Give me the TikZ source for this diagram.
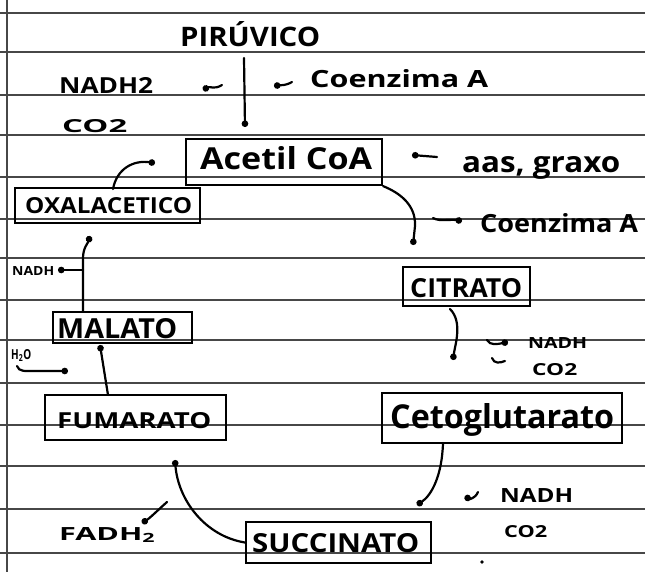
\documentclass[tikz,border=0pt]{standalone}
\usepackage{fontspec}
\setmainfont{Open Sans}
\usepackage{graphicx}
\usetikzlibrary{arrows.meta}
\newcommand{\fitt}[3]{\resizebox{#1pt}{#2pt}{#3}}
\begin{document}
\begin{tikzpicture}[x=1pt,y=-1pt,
  paper/.style={black!72, line width=1.1pt},
  hand/.style={line width=2.2pt, line cap=round, line join=round},
  dot/.style={-{Circle[length=6.5pt]}},
  box/.style={draw, line width=2.2pt, inner sep=0pt},
  lbl/.style={anchor=base west, inner sep=0pt, font=\bfseries}]
\useasboundingbox (0,0) rectangle (645,572);
\fill[white] (0,0) rectangle (645,572);
\foreach \yy in {13,52,95,135,177,219,258,300,340,383,425,466,509,553}
  \draw[paper] (0,\yy) -- (645,\yy);
\draw[paper] (7,0) -- (7,572);

% boxes
\node[box, minimum width=196pt, minimum height=46pt] (acetil) at (284,162) {};
\node[box, minimum width=185pt, minimum height=35pt] (oxal) at (107.5,205.5) {};
\node[box, minimum width=127pt, minimum height=39pt] (citrato) at (466.5,286.5) {};
\node[box, minimum width=139pt, minimum height=31pt] (malato) at (122.5,327.5) {};
\node[box, minimum width=181pt, minimum height=45pt] (fumarato) at (135.5,417.5) {};
\node[box, minimum width=240pt, minimum height=50pt] (ceto) at (502,418) {};
\node[box, minimum width=185pt, minimum height=41pt] (succ) at (338.5,542.5) {};

% texts
\node[lbl] (pirT) at (180,47) {\fitt{140}{25}{PIRÚVICO}};
\node[lbl] (nadh2) at (59,94) {\fitt{94}{16}{NADH2}};
\node[lbl] (co2a) at (62,133) {\fitt{65}{13}{CO2}};
\node[lbl] (coA1) at (310,88) {\fitt{178}{18}{Coenzima A}};
\node[lbl] (acetilT) at (200,170) {\fitt{172}{23}{Acetil CoA}};
\node[lbl] (aas) at (462,173) {\fitt{158}{16}{aas, graxo}};
\node[lbl] (oxalT) at (25,213) {\fitt{167}{16}{OXALACETICO}};
\node[lbl] (coA2) at (480,232) {\fitt{158}{19}{Coenzima A}};
\node[lbl] (nadhL) at (12,275) {\fitt{42}{9}{NADH}};
\node[lbl] (citT) at (410,297) {\fitt{112}{19}{CITRATO}};
\node[lbl] (malT) at (57,338) {\fitt{120}{20}{MALATO}};
\node[lbl] (nadhM) at (528,348) {\fitt{59}{11}{NADH}};
\node[lbl] (h2o) at (11,359) {\fitt{20}{10}{H\textsubscript{2}O}};
\node[lbl] (co2M) at (532,375) {\fitt{45}{12}{CO2}};
\node[lbl] (fumT) at (57,428) {\fitt{154}{16}{FUMARATO}};
\node[lbl] (cetoT) at (390,428) {\fitt{224}{25}{Cetoglutarato}};
\node[lbl] (nadhB) at (500,502) {\fitt{73}{14}{NADH}};
\node[lbl] (co2B) at (504,537) {\fitt{43}{12}{CO2}};
\node[lbl] (fadh) at (59,540) {\fitt{97}{13}{FADH\textsubscript{2}}};
\node[lbl] (succT) at (252,552) {\fitt{167}{19}{SUCCINATO}};

% free ends
\coordinate (e1) at (245,127);
\coordinate (e2) at (155,163);
\coordinate (e3) at (413,245);
\coordinate (e4) at (453,360);
\coordinate (e5) at (90,236);
\coordinate (e6) at (100,345);
\coordinate (e7) at (175,460);
\coordinate (e8) at (417,505);

% connectors
\draw[hand,dot] (244,58) -- (e1);
\draw[hand,dot] (222,85) .. controls (214,90) and (210,86) .. (203,90);
\draw[hand,dot] (292,82) .. controls (285,86) and (281,85) .. (274,86);
\draw[hand,dot] (113,189) .. controls (117,168) and (134,160) .. (e2);
\draw[hand,dot] (437,157) -- (412,155);
\draw[hand,dot] (acetil.south east) .. controls (400,193) and (416,205) .. (415,226) -- (e3);
\draw[hand,dot] (433,218) .. controls (440,222) and (450,219) .. (462,221);
\draw[hand,dot] (450,309) .. controls (463,322) and (455,345) .. (e4);
\draw[hand,dot] (487,340) .. controls (490,346) and (498,344) .. (508,342);
\draw[hand] (492,358) .. controls (494,364) and (500,363) .. (505,361);
\draw[hand,dot] (83,311) -- (83,258) .. controls (83,248) and (88,243) .. (e5);
\draw[hand,dot] (83,270) -- (58,270);
\draw[hand,dot] (17,366) .. controls (19,372) and (25,371) .. (35,371) -- (68,371);
\draw[hand,dot] (108,395) -- (e6);
\draw[hand,dot] (succ.west) .. controls (205,536) and (178,500) .. (e7);
\draw[hand,dot] (167,502) .. controls (158,510) and (150,518) .. (142,523);
\draw[hand,dot] (443,443) .. controls (442,475) and (432,495) .. (e8);
\draw[hand,dot] (478,492) .. controls (475,499) and (469,499) .. (465,496);
\fill (482,562) circle (1.8pt);
\end{tikzpicture}
\end{document}
